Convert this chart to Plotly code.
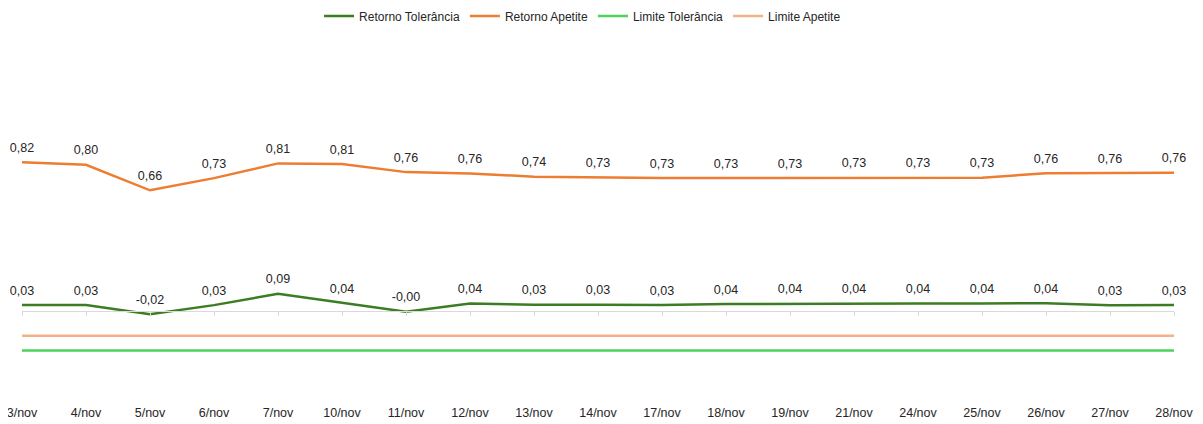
import plotly.graph_objects as go

categories = ["3/nov", "4/nov", "5/nov", "6/nov", "7/nov", "10/nov", "11/nov", "12/nov", "13/nov",
              "14/nov", "17/nov", "18/nov", "19/nov", "21/nov", "24/nov", "25/nov", "26/nov", "27/nov", "28/nov"]

retorno_apetite = [0.818, 0.804, 0.664, 0.731, 0.812, 0.809, 0.764, 0.757, 0.739, 0.733, 0.731,
                   0.731, 0.732, 0.733, 0.733, 0.733, 0.758, 0.758, 0.760]
retorno_tolerancia = [0.033, 0.033, -0.018, 0.032, 0.094, 0.044, -0.004, 0.041, 0.034, 0.034, 0.033,
                      0.038, 0.040, 0.039, 0.041, 0.041, 0.043, 0.032, 0.033]
limite_apetite = [-0.137] * len(categories)
limite_tolerancia = [-0.217] * len(categories)


def fmt(vals):
    return [f"{v:.2f}".replace(".", ",") for v in vals]


FONT = "Liberation Sans, Arial, sans-serif"
y_range = [-0.49, 1.491]
zero_pos = (0 - y_range[0]) / (y_range[1] - y_range[0])

label_font = dict(size=12.5, color="#262626", family=FONT)

fig = go.Figure()
fig.add_trace(go.Scatter(x=categories, y=retorno_tolerancia, name="Retorno Tolerância", mode="lines",
                         line=dict(color="#3b7d23", width=2.5)))
fig.add_trace(go.Scatter(x=categories, y=retorno_apetite, name="Retorno Apetite", mode="lines",
                         line=dict(color="#ed7d31", width=2.5)))
fig.add_trace(go.Scatter(x=categories, y=limite_tolerancia, name="Limite Tolerância", mode="lines",
                         line=dict(color="#4ed25c", width=2.5)))
fig.add_trace(go.Scatter(x=categories, y=limite_apetite, name="Limite Apetite", mode="lines",
                         line=dict(color="#f4b183", width=2.5)))
# data labels
for vals in (retorno_tolerancia, retorno_apetite):
    fig.add_trace(go.Scatter(x=categories, y=vals, mode="markers+text", text=fmt(vals),
                             marker=dict(size=10, opacity=0), textposition="top center",
                             textfont=label_font, cliponaxis=False, showlegend=False,
                             hoverinfo="skip"))
# helper trace for axis drawn at y = 0
fig.add_trace(go.Scatter(x=categories, y=[None] * len(categories), xaxis="x2", showlegend=False,
                         hoverinfo="skip"))

fig.update_layout(
    width=1203, height=424,
    margin=dict(l=14, r=37, t=32, b=32, autoexpand=False),
    paper_bgcolor="white", plot_bgcolor="white",
    font=dict(family=FONT, size=12, color="#404040"),
    separators=",.",
    showlegend=True,
    legend=dict(orientation="h", xref="container", x=0.4776, xanchor="center",
                yref="container", y=1 - 8 / 424, yanchor="middle",
                font=dict(size=12, color="#262626"), itemwidth=30, tracegroupgap=0),
    xaxis=dict(type="category", range=[0, 18], showgrid=False, showline=False, ticks="",
               zeroline=False, automargin=False, ticklabelstandoff=3,
               tickfont=dict(size=12.5, color="#262626")),
    xaxis2=dict(type="category", range=[0, 18], overlaying="x", anchor="free", position=zero_pos,
                side="bottom", showline=True, linecolor="#d9d9d9", linewidth=1, ticks="outside",
                ticklen=4, tickcolor="#d9d9d9", showticklabels=False, showgrid=False, zeroline=False,
                automargin=False),
    yaxis=dict(range=y_range, visible=False, showgrid=False, zeroline=False, automargin=False),
)

fig.write_html("out.html")
